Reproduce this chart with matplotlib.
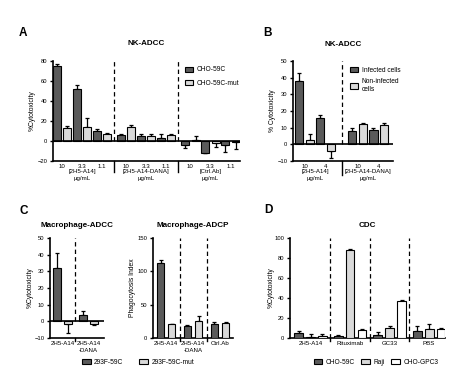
import matplotlib
matplotlib.use('Agg')
import matplotlib.pyplot as plt
import numpy as np

plt.rcParams['font.family'] = ['Liberation Sans', 'DejaVu Sans']
plt.rcParams['font.size'] = 4.5

DARK = '#5a5a5a'
LIGHT = '#d9d9d9'
WHITE = '#ffffff'

# panel A: NK-ADCC
a_groups = ['[2H5-A14]\nμg/mL', '[2H5-A14-DANA]\nμg/mL', '[Ctrl.Ab]\nμg/mL']
a_doses = ['10', '3.3', '1.1']
a_dark = [75, 52, 10, 6, 5, 3, -4, -12, -4]
a_dark_err = [1.5, 3.5, 1.5, 1, 2, 4, 3, 0.5, 7]
a_light = [13, 14, 7, 14, 5, 6, 1, -2, -1]
a_light_err = [2, 9, 0.5, 1.5, 1.5, 1, 4, 4.5, 7.5]

# panel B: NK-ADCC, infected cells
b_groups = ['[2H5-A14]\nμg/mL', '[2H5-A14-DANA]\nμg/mL']
b_doses = ['10', '4']
b_dark = [38, 16, 8, 8.5]
b_dark_err = [4.5, 1.5, 1.5, 1.5]
b_light = [2.5, -4, 12, 11.5]
b_light_err = [3.5, 4, 0.5, 1]

# panel C
cl_groups = ['2H5-A14', '2H5-A14\n-DANA']
cl_dark = [32, 3.5]
cl_dark_err = [9, 2.5]
cl_light = [-2, -2]
cl_light_err = [5, 0.5]

cr_groups = ['2H5-A14', '2H5-A14\n-DANA', 'Ctrl.Ab']
cr_dark = [112, 18, 21]
cr_dark_err = [6, 1.5, 2]
cr_light = [20, 25, 22]
cr_light_err = [1, 8, 1.5]

# panel D: CDC
d_groups = ['2H5-A14', 'Rituximab', 'GC33', 'PBS']
d_dark = [5, 2, 3, 7]
d_dark_err = [2, 0.5, 2.5, 4.5]
d_light = [1, 88, 10, 9]
d_light_err = [3, 0.5, 2, 4.5]
d_white = [2, 7.5, 37, 9]
d_white_err = [2, 0.8, 0.8, 1]

TICK_FS = 4.2
XLAB_FS = 4.4
TITLE_FS = 5.8
LEG_FS = 4.8


def axpos(x0, x1, ytop, ybot):
    return [x0 / 474, 1 - ybot / 391, (x1 - x0) / 474, (ybot - ytop) / 391]


def bars(ax, x, vals, errs, color, width, label=None):
    vals = np.array(vals, dtype=float)
    errs = np.array(errs, dtype=float)
    up = np.where(vals >= 0, errs, 0)
    down = np.where(vals < 0, errs, 0)
    ax.bar(x, vals, width, color=color, edgecolor='black', linewidth=0.8,
           label=label, zorder=3)
    ax.errorbar(x, vals, yerr=[down, up], fmt='none', ecolor='black',
                elinewidth=0.9, capsize=1.6, capthick=0.9, zorder=2)


def style(ax, ylim, yticks, ylabel, zero_line, pad=0.8):
    ax.set_ylim(*ylim)
    ax.set_yticks(yticks)
    for s in ['top', 'right']:
        ax.spines[s].set_visible(False)
    ax.spines['left'].set_linewidth(1.2)
    ax.spines['bottom'].set_linewidth(1.2)
    ax.tick_params(axis='y', length=2.5, width=1, pad=1.5, labelsize=TICK_FS)
    ax.tick_params(axis='x', length=0, pad=2.5, labelsize=XLAB_FS)
    ax.set_ylabel(ylabel, fontsize=4.9, labelpad=pad)
    if zero_line:
        ax.axhline(0, color='black', linewidth=1.2, zorder=4)


def separators(ax, seps, top, tick_len):
    for s in seps:
        ax.vlines(s, 0, top, colors='black', linestyles=(0, (3.5, 2.5)),
                  linewidth=0.9, zorder=1)
        ax.plot([s, s], [0, -tick_len], color='black', linewidth=1,
                transform=ax.get_xaxis_transform(), clip_on=False)


fig = plt.figure(figsize=(4.74, 3.91), dpi=100)

# ---- A ----
ax = fig.add_axes(axpos(52.7, 240, 60.7, 160.7))
xa = np.array([0, 1, 2, 3.2, 4.2, 5.2, 6.4, 7.4, 8.4])
bars(ax, xa - 0.26, a_dark, a_dark_err, DARK, 0.4, 'CHO-59C')
bars(ax, xa + 0.26, a_light, a_light_err, LIGHT, 0.4, 'CHO-59C-mut')
ax.set_xlim(-0.47, 8.88)
style(ax, (-20, 80), [-20, 0, 20, 40, 60, 80], '%Cytotoxicity', True)
ax.set_xticks(xa)
ax.set_xticklabels(a_doses * 3)
separators(ax, [2.6, 5.8], 80, 0.11)
for g, lab in enumerate(a_groups):
    ax.text(xa[g * 3 + 1], -0.085, lab, transform=ax.get_xaxis_transform(),
            ha='center', va='top', fontsize=XLAB_FS, linespacing=1.45)
ax.legend(loc='upper left', bbox_to_anchor=(0.69, 0.97), frameon=False,
          fontsize=LEG_FS, handlelength=1.3, handleheight=0.8, labelspacing=1.0,
          handletextpad=0.5, borderaxespad=0)
ax.set_title('NK-ADCC', fontsize=TITLE_FS, fontweight='bold', pad=11)
fig.text(23 / 474, 1 - 33 / 391, 'A', fontsize=8.5, fontweight='bold',
         ha='center', va='center')

# ---- B ----
ax = fig.add_axes(axpos(293, 393, 61, 161))
xb = np.array([0, 1, 2.5, 3.5])
bars(ax, xb - 0.25, b_dark, b_dark_err, DARK, 0.38, 'Infected cells')
bars(ax, xb + 0.25, b_light, b_light_err, LIGHT, 0.38, 'Non-infected\ncells')
ax.set_xlim(-0.54, 4.17)
style(ax, (-10, 50), [-10, 0, 10, 20, 30, 40, 50], '% Cytotoxicity', True)
ax.set_xticks(xb)
ax.set_xticklabels(b_doses * 2)
separators(ax, [1.75], 50, 0.14)
for g, lab in enumerate(b_groups):
    ax.text((xb[g * 2] + xb[g * 2 + 1]) / 2, -0.085, lab,
            transform=ax.get_xaxis_transform(), ha='center', va='top',
            fontsize=XLAB_FS, linespacing=1.45)
ax.legend(loc='upper left', bbox_to_anchor=(0.54, 0.97), frameon=False,
          fontsize=LEG_FS, handlelength=1.3, handleheight=0.8, labelspacing=0.7,
          handletextpad=0.5, borderaxespad=0)
ax.set_title('NK-ADCC', fontsize=TITLE_FS, fontweight='bold', pad=11)
fig.text(268 / 474, 1 - 33 / 391, 'B', fontsize=8.5, fontweight='bold',
         ha='center', va='center')

# ---- C left ----
ax = fig.add_axes(axpos(50, 104, 238.3, 337.7))
xc = np.arange(len(cl_groups))
bars(ax, xc - 0.22, cl_dark, cl_dark_err, DARK, 0.3, '293F-59C')
bars(ax, xc + 0.22, cl_light, cl_light_err, LIGHT, 0.3, '293F-59C-mut')
ax.set_xlim(-0.48, 1.6)
style(ax, (-10, 50), [-10, 0, 10, 20, 30, 40, 50], '%Cytotoxicity', True)
ax.set_xticks(xc)
ax.set_xticklabels(cl_groups, linespacing=1.4, va='top')
separators(ax, [0.5], 50, 0.03)
ax.set_title('Macrophage-ADCC', fontsize=TITLE_FS, fontweight='bold', pad=8)
handles, labels = ax.get_legend_handles_labels()
fig.legend(handles, labels, loc='center', bbox_to_anchor=(138 / 474, 1 - 362 / 391),
           ncol=2, frameon=False, fontsize=LEG_FS, handlelength=1.3,
           handleheight=0.8, columnspacing=2.4, handletextpad=0.5)
fig.text(24 / 474, 1 - 211 / 391, 'C', fontsize=8.5, fontweight='bold',
         ha='center', va='center')

# ---- C right ----
ax = fig.add_axes(axpos(153, 233, 238.3, 337.7))
xr = np.arange(len(cr_groups))
bars(ax, xr - 0.21, cr_dark, cr_dark_err, DARK, 0.27)
bars(ax, xr + 0.21, cr_light, cr_light_err, LIGHT, 0.27)
ax.set_xlim(-0.49, 2.48)
style(ax, (0, 150), [0, 50, 100, 150], 'Phagocytosis Index', False)
ax.set_xticks(xr)
ax.set_xticklabels(cr_groups, linespacing=1.4, va='top')
separators(ax, [0.5, 1.5], 150, 0.03)
ax.set_title('Macrophage-ADCP', fontsize=TITLE_FS, fontweight='bold', pad=8)

# ---- D ----
ax = fig.add_axes(axpos(290, 445, 237.7, 337.7))
xd = np.arange(len(d_groups))
bars(ax, xd - 0.3, d_dark, d_dark_err, DARK, 0.22, 'CHO-59C')
bars(ax, xd, d_light, d_light_err, LIGHT, 0.22, 'Raji')
bars(ax, xd + 0.3, d_white, d_white_err, WHITE, 0.22, 'CHO-GPC3')
ax.set_xlim(-0.52, 3.4)
style(ax, (0, 100), [0, 20, 40, 60, 80, 100], '%Cytotoxicity', False, pad=0.2)
ax.set_xticks(xd)
ax.set_xticklabels(d_groups)
separators(ax, [0.5, 1.5, 2.5], 100, 0.03)
ax.set_title('CDC', fontsize=TITLE_FS, fontweight='bold', pad=8)
handles, labels = ax.get_legend_handles_labels()
fig.legend(handles, labels, loc='center', bbox_to_anchor=(376 / 474, 1 - 362 / 391),
           ncol=3, frameon=False, fontsize=LEG_FS, handlelength=1.3,
           handleheight=0.8, columnspacing=1.0, handletextpad=0.5)
fig.text(268 / 474, 1 - 210 / 391, 'D', fontsize=8.5, fontweight='bold',
         ha='center', va='center')

fig.savefig('out.png', dpi=100, facecolor='white')
